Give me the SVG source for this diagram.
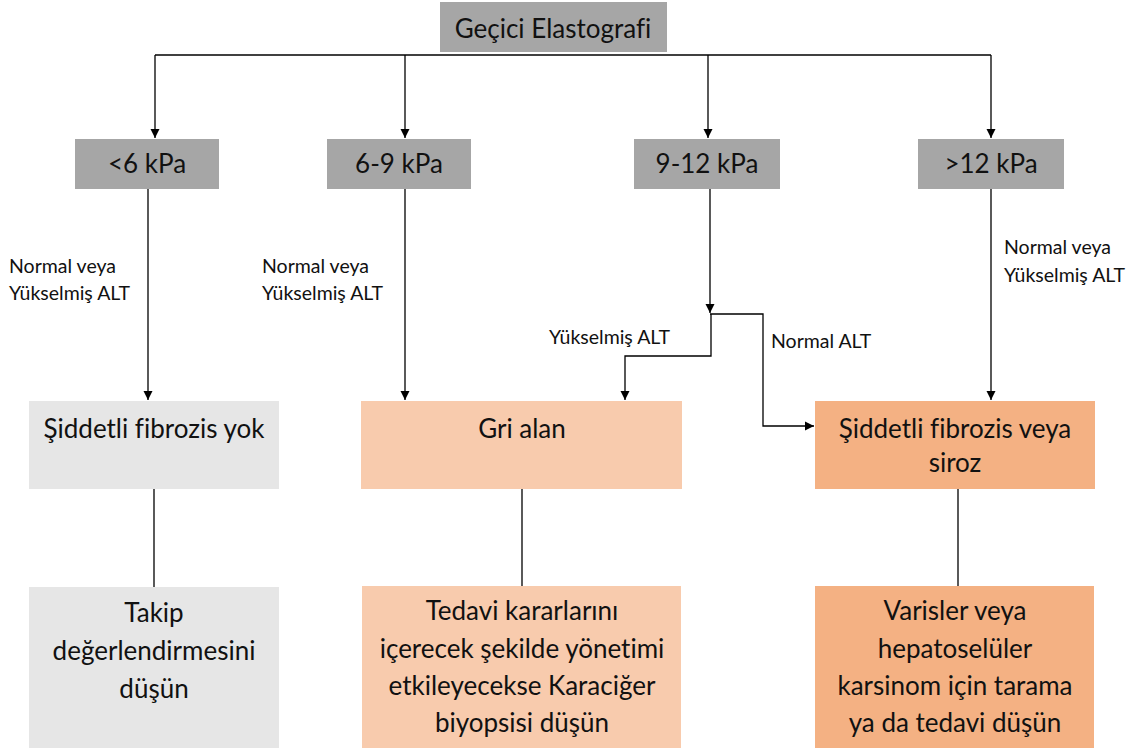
<svg xmlns="http://www.w3.org/2000/svg" width="1135" height="749" viewBox="0 0 1135 749">
<defs>
<marker id="ah" markerWidth="10" markerHeight="10" refX="9" refY="5" orient="auto" markerUnits="userSpaceOnUse">
<path d="M0,0.5 L9,5 L0,9.5 Z" fill="#000"/>
</marker>
<style>
.t{font-family:Lato,"Open Sans",sans-serif;fill:#111;text-anchor:middle;font-variant-ligatures:none}
.big{font-size:26px}
.lab{font-family:Lato,"Open Sans",sans-serif;fill:#111;font-size:19.5px}
.ln{stroke:#000;stroke-width:1.3;fill:none}
.ar{marker-end:url(#ah)}
.g1{fill:#a6a6a6}
.g2{fill:#e6e6e6}
.o1{fill:#f8cbad}
.o2{fill:#f4b183}
</style>
</defs>
<rect width="1135" height="749" fill="#fff"/>
<g id="connectors">
<path class="ln" d="M155,55 H991"/>
<path class="ln ar" d="M155,55 V138"/>
<path class="ln ar" d="M405,55 V138"/>
<path class="ln ar" d="M708,55 V138"/>
<path class="ln ar" d="M991,55 V138"/>
<path class="ln ar" d="M148,189 V400"/>
<path class="ln ar" d="M405,189 V400"/>
<path class="ln ar" d="M710,189 V313"/>
<path class="ln ar" d="M711,314 V356 H625 V400"/>
<path class="ln ar" d="M710,314 H763 V426 H814"/>
<path class="ln ar" d="M991,189 V400"/>
<path class="ln" d="M154,489 V587"/>
<path class="ln" d="M522,489 V587"/>
<path class="ln" d="M958,489 V587"/>
</g>
<g id="labels">
<text class="lab" x="9" y="273">Normal veya</text>
<text class="lab" x="9" y="300">Yükselmiş ALT</text>
<text class="lab" x="262" y="273">Normal veya</text>
<text class="lab" x="262" y="300">Yükselmiş ALT</text>
<text class="lab" x="1004" y="254">Normal veya</text>
<text class="lab" x="1004" y="282">Yükselmiş ALT</text>
<text class="lab" x="549" y="344">Yükselmiş ALT</text>
<text class="lab" x="771" y="348">Normal ALT</text>
</g>
<g id="n-top"><rect class="g1" x="440" y="2" width="227" height="50"/><text class="t big" x="553" y="38">Geçici Elastografi</text></g>
<g id="n-k1"><rect class="g1" x="75" y="139" width="144" height="50"/><text class="t big" x="147" y="173">&lt;6 kPa</text></g>
<g id="n-k2"><rect class="g1" x="327" y="139" width="144" height="50"/><text class="t big" x="399" y="173">6-9 kPa</text></g>
<g id="n-k3"><rect class="g1" x="634" y="139" width="146" height="50"/><text class="t big" x="707" y="173">9-12 kPa</text></g>
<g id="n-k4"><rect class="g1" x="918" y="139" width="146" height="50"/><text class="t big" x="991" y="173">&gt;12 kPa</text></g>
<g id="n-a1"><rect class="g2" x="29" y="401" width="250" height="88"/><text class="t big" x="154" y="438">Şiddetli fibrozis yok</text></g>
<g id="n-a2"><rect class="o1" x="361" y="401" width="321" height="88"/><text class="t big" x="522" y="438">Gri alan</text></g>
<g id="n-a3"><rect class="o2" x="815" y="401" width="280" height="88"/><text class="t big" x="955" y="438">Şiddetli fibrozis veya</text><text class="t big" x="955" y="472">siroz</text></g>
<g id="n-b1"><rect class="g2" x="29" y="587" width="250" height="161"/><text class="t big" x="154" y="622">Takip</text><text class="t big" x="154" y="660">değerlendirmesini</text><text class="t big" x="154" y="698">düşün</text></g>
<g id="n-b2"><rect class="o1" x="362" y="586" width="319" height="162"/><text class="t big" x="522" y="620">Tedavi kararlarını</text><text class="t big" x="522" y="658">içerecek şekilde yönetimi</text><text class="t big" x="522" y="695">etkileyecekse Karaciğer</text><text class="t big" x="522" y="732">biyopsisi düşün</text></g>
<g id="n-b3"><rect class="o2" x="815" y="586" width="279" height="162"/><text class="t big" x="955" y="620">Varisler veya</text><text class="t big" x="955" y="658">hepatoselüler</text><text class="t big" x="955" y="695">karsinom için tarama</text><text class="t big" x="955" y="732">ya da tedavi düşün</text></g>
</svg>
